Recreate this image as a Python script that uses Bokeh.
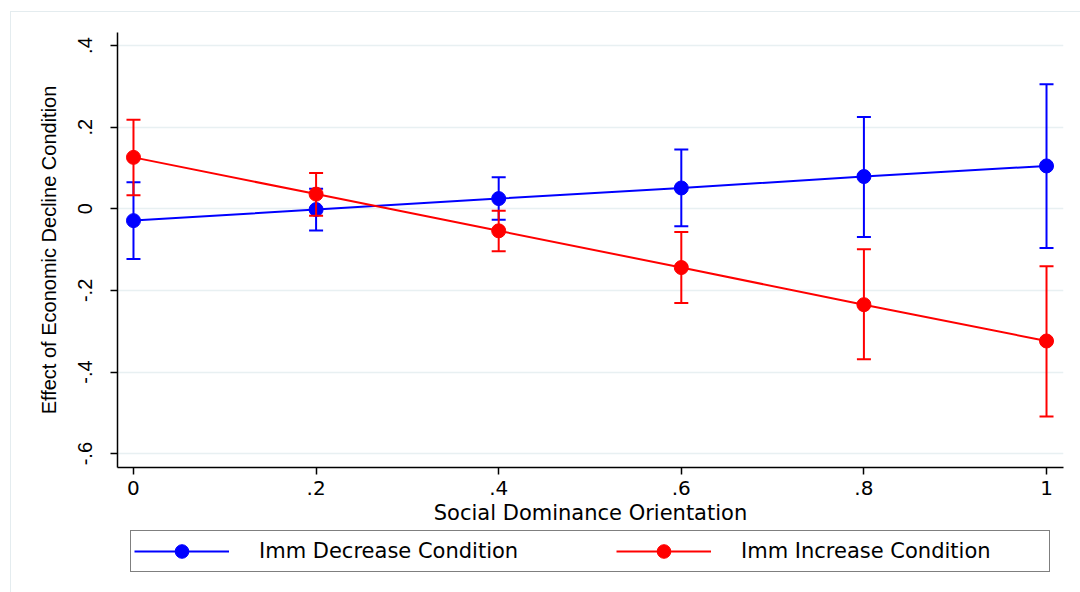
from bokeh.plotting import figure
from bokeh.layouts import column
from bokeh.models import Range1d, FixedTicker, Legend, LegendItem
from bokeh.embed import file_html
from bokeh.resources import INLINE

# ---- data ----
sdo = [0.0, 0.2, 0.4, 0.6, 0.8, 1.0]

dec_est = [-0.029, -0.002, 0.025, 0.051, 0.079, 0.105]
dec_lo = [-0.123, -0.053, -0.027, -0.043, -0.069, -0.096]
dec_hi = [0.065, 0.049, 0.077, 0.145, 0.225, 0.305]

inc_est = [0.126, 0.036, -0.054, -0.144, -0.235, -0.324]
inc_lo = [0.033, -0.017, -0.104, -0.231, -0.369, -0.509]
inc_hi = [0.218, 0.088, -0.005, -0.057, -0.099, -0.141]

x_ticks = [0, 0.2, 0.4, 0.6, 0.8, 1]
x_tick_labels = ["0", ".2", ".4", ".6", ".8", "1"]
y_ticks = [-0.6, -0.4, -0.2, 0, 0.2, 0.4]
y_tick_labels = ["-.6", "-.4", "-.2", "0", ".2", ".4"]

series_names = ["Imm Decrease Condition", "Imm Increase Condition"]
series_colors = ["#0000ff", "#ff0000"]

FONT_H = "DejaVu Sans"       # horizontal texts
FONT_V = "Liberation Sans"   # rotated (vertical) texts

p = figure(
    width=1069, height=518,
    output_backend="svg", toolbar_location=None,
    x_range=Range1d(-0.0175, 1.0186), y_range=Range1d(-0.634, 0.432),
    min_border_left=106, min_border_right=17, min_border_top=20, min_border_bottom=63,
    background_fill_color="white", border_fill_color="white",
)
p.outline_line_color = None
p.xgrid.visible = False
p.ygrid.grid_line_color = "#e8f0f2"
p.ygrid.grid_line_width = 1.5

for ax, ticks, labels, font in ((p.xaxis[0], x_ticks, x_tick_labels, FONT_H),
                                (p.yaxis[0], y_ticks, y_tick_labels, FONT_V)):
    ax.ticker = FixedTicker(ticks=ticks)
    ax.major_label_overrides = {t: l for t, l in zip(ticks, labels)}
    ax.minor_tick_line_color = None
    ax.major_tick_in = 0
    ax.major_tick_out = 7
    ax.axis_line_color = "black"
    ax.axis_line_width = 1.5
    ax.major_tick_line_color = "black"
    ax.major_tick_line_width = 1.5
    ax.major_label_text_font = font
    ax.major_label_text_font_size = "20px"
    ax.major_label_text_color = "black"
    ax.axis_label_text_font = font
    ax.axis_label_text_font_size = "20px"
    ax.axis_label_text_font_style = "normal"
    ax.axis_label_text_color = "black"

p.xaxis.axis_label = "Social Dominance Orientation"
p.xaxis.axis_label_text_font_size = "21px"
p.xaxis.major_label_standoff = 6
p.xaxis.axis_label_standoff = 3
p.yaxis.axis_label = "Effect of Economic Decline Condition"
p.yaxis.major_label_orientation = "vertical"
p.yaxis.major_label_standoff = 18
p.yaxis.axis_label_standoff = 16

for col, est, lo, hi in ((series_colors[0], dec_est, dec_lo, dec_hi),
                         (series_colors[1], inc_est, inc_lo, inc_hi)):
    p.segment(x0=sdo, y0=lo, x1=sdo, y1=hi, line_color=col, line_width=2)
    p.scatter(sdo, lo, marker="dash", size=14, line_color=col, line_width=2)
    p.scatter(sdo, hi, marker="dash", size=14, line_color=col, line_width=2)
    p.line(sdo, est, line_color=col, line_width=2)
    p.scatter(sdo, est, marker="circle", size=14, fill_color=col, line_color=col)

# ---- legend strip below the plot (its frame is aligned with the main frame) ----
lg = figure(
    width=1069, height=62, output_backend="svg", toolbar_location=None,
    x_range=Range1d(0, 1), y_range=Range1d(0, 1),
    x_axis_type=None, y_axis_type=None,
    min_border_left=106, min_border_right=17, min_border_top=0, min_border_bottom=0,
    background_fill_color="white", border_fill_color="white",
)
lg.outline_line_color = None
items = []
for name, col in zip(series_names, series_colors):
    # legend-key renderers, kept outside the visible range of this strip
    lr = lg.line(x=[-10, -9], y=[-10, -10], line_color=col, line_width=2)
    dr = lg.scatter(x=[-10], y=[-10], marker="circle", size=14, fill_color=col, line_color=col)
    items.append(LegendItem(label=name, renderers=[lr, dr]))

legend = Legend(
    items=items, orientation="horizontal", location=(13, 20),
    padding=3, margin=0, spacing=52, glyph_width=95, glyph_height=34,
    label_standoff=30, label_width=305, label_height=20,
    label_text_font=FONT_H, label_text_font_size="21px", label_text_color="black",
    border_line_color="black", border_line_width=1.5, background_fill_color="white",
    background_fill_alpha=1.0,
)
lg.add_layout(legend, "center")

layout = column(p, lg, spacing=0,
                styles={"margin-left": "10px", "margin-top": "11px",
                        "border-left": "1px solid #e4ecef", "border-top": "1px solid #e4ecef"})

open("out.html", "w").write(file_html(layout, INLINE))
